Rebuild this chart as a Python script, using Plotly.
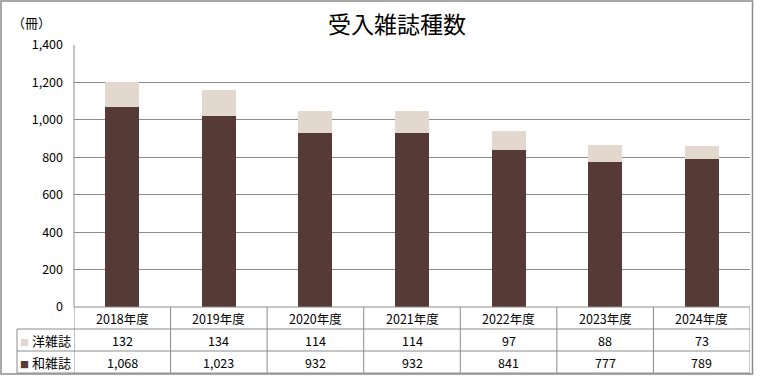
import plotly.graph_objects as go

categories = ["2018年度", "2019年度", "2020年度", "2021年度", "2022年度", "2023年度", "2024年度"]
series_names = ["洋雑誌", "和雑誌"]
yo_values = [132, 134, 114, 114, 97, 88, 73]
wa_values = [1068, 1023, 932, 932, 841, 777, 789]
y_ticks = [0, 200, 400, 600, 800, 1000, 1200, 1400]

DARK = "#553a35"
LIGHT = "#e3d8cd"
GRID = "#8c8c8c"
FONT = "Noto Sans CJK JP"

W, H = 762, 377
L, R, T, B = 74, 12, 45, 70
PW = W - L - R
PH = H - T - B


def py(pix):
    return (H - B - pix) / PH


def px(pix):
    return (pix - L) / PW


fig = go.Figure()
fig.add_bar(x=categories, y=wa_values, name=series_names[1], marker_color=DARK,
            marker_line_width=0)
fig.add_bar(x=categories, y=yo_values, name=series_names[0], marker_color=LIGHT,
            marker_line_width=0)

shapes = []
annotations = []
line = dict(color=GRID, width=1)

# outer border
shapes.append(dict(type="rect", xref="paper", yref="paper",
                   x0=px(1), x1=px(752.5), y0=py(374), y1=py(1),
                   line=dict(color=GRID, width=1.5)))

row_y = [307, 329, 351, 373]
# horizontal table lines
shapes.append(dict(type="line", xref="paper", yref="paper", x0=0, x1=1,
                   y0=py(row_y[0]), y1=py(row_y[0]), line=line))
for yy in row_y[1:]:
    shapes.append(dict(type="line", xref="paper", yref="paper", x0=px(17), x1=1,
                       y0=py(yy), y1=py(yy), line=line))
# vertical table lines at category boundaries
for i in range(len(categories) + 1):
    shapes.append(dict(type="line", xref="x", yref="paper", x0=i - 0.5, x1=i - 0.5,
                       y0=py(row_y[3]), y1=py(row_y[0]), line=line))
shapes.append(dict(type="line", xref="paper", yref="paper", x0=px(17), x1=px(17),
                   y0=py(row_y[3]), y1=py(row_y[1]), line=line))
# plot left border
shapes.append(dict(type="line", xref="paper", yref="paper", x0=0, x1=0,
                   y0=0, y1=1, line=line))

fnt = dict(family=FONT, size=12.5, color="#000000")


def cell(x, y, text, xref="x", xanchor="center", font=fnt):
    annotations.append(dict(x=x, y=y, xref=xref, yref="paper", text=text,
                            xanchor=xanchor, yanchor="middle", showarrow=False, font=font))


for i, c in enumerate(categories):
    cell(c, py((row_y[0] + row_y[1]) / 2), c)
    cell(c, py((row_y[1] + row_y[2]) / 2), f"{yo_values[i]:,}")
    cell(c, py((row_y[2] + row_y[3]) / 2), f"{wa_values[i]:,}")

lfont = dict(family=FONT, size=13, color="#000")
cell(px(18), py((row_y[1] + row_y[2]) / 2),
     f"<span style='color:{LIGHT};font-size:9px'>■</span> {series_names[0]}", xref="paper",
     xanchor="left", font=lfont)
cell(px(18), py((row_y[2] + row_y[3]) / 2),
     f"<span style='color:{DARK};font-size:9px'>■</span> {series_names[1]}", xref="paper",
     xanchor="left", font=lfont)

# unit label
cell(px(10), py(22), "（冊）", xref="paper", xanchor="left", font=lfont)

fig.update_layout(
    width=W, height=H,
    margin=dict(l=L, r=R, t=T, b=B),
    paper_bgcolor="white", plot_bgcolor="white",
    barmode="stack", bargap=0.648,
    showlegend=False,
    title=dict(text="受入雑誌種数", x=397 / W, xref="container", xanchor="center",
               y=1 - 25 / H, yanchor="middle",
               font=dict(family=FONT, size=23, color="#000")),
    xaxis=dict(showticklabels=False, showgrid=False, zeroline=False, ticks="",
               range=[-0.5, len(categories) - 0.5]),
    yaxis=dict(range=[0, 1400], tickvals=y_ticks, tickformat=",", showgrid=True,
               gridcolor=GRID, gridwidth=1, zeroline=False, ticks="",
               ticklabelstandoff=10,
               tickfont=dict(family=FONT, size=12.5, color="#000")),
    shapes=shapes, annotations=annotations,
    font=dict(family=FONT),
)

fig.write_html("out.html")
